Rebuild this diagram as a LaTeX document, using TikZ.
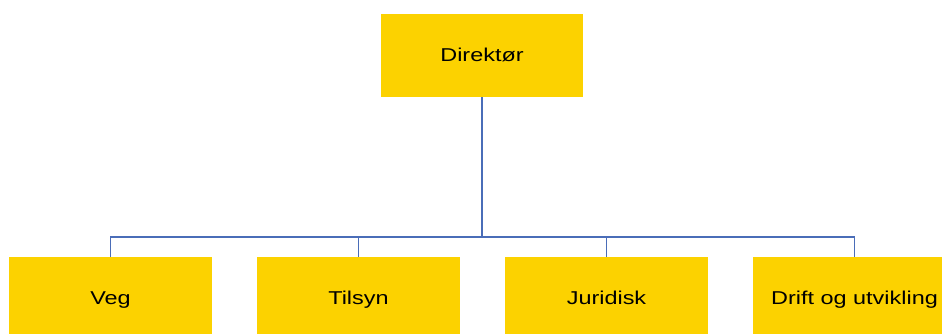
\documentclass[tikz,border=0pt]{standalone}
\usepackage{fontspec}
\setmainfont{Liberation Sans}
\definecolor{boxyellow}{HTML}{FCD200}
\definecolor{linkblue}{HTML}{4A6DB8}
\newcommand{\widetxt}[1]{\scalebox{1.26}[1]{#1}}
\begin{document}
\begin{tikzpicture}[x=1pt,y=1pt,
  unit/.style={fill=boxyellow, draw=none, minimum width=203pt, minimum height=83pt,
    inner sep=0pt, text height=12.5pt, text depth=0pt, font=\fontsize{18.6}{22}\selectfont},
  link/.style={draw=linkblue, line width=1.5pt}]
\clip (0,0) rectangle (942,334);
\useasboundingbox (0,0) rectangle (942,334);
\fill[white] (0,0) rectangle (942,334);
\node[unit, minimum width=202pt] (dir) at (482,278.5) {\widetxt{Direktør}};
\node[unit] (veg) at (110.5,35.5) {\widetxt{Veg}};
\node[unit] (til) at (358.5,35.5) {\widetxt{Tilsyn}};
\node[unit] (jur) at (606.5,35.5) {\widetxt{Juridisk}};
\node[unit] (dri) at (854.5,35.5) {\widetxt{Drift og utvikling}};
\coordinate (bus) at (482,97);
\draw[link] (dir.south) -- (bus);
\draw[link] (bus) -| (veg.north);
\draw[link] (bus) -| (til.north);
\draw[link] (bus) -| (jur.north);
\draw[link] (bus) -| (dri.north);
\end{tikzpicture}
\end{document}
